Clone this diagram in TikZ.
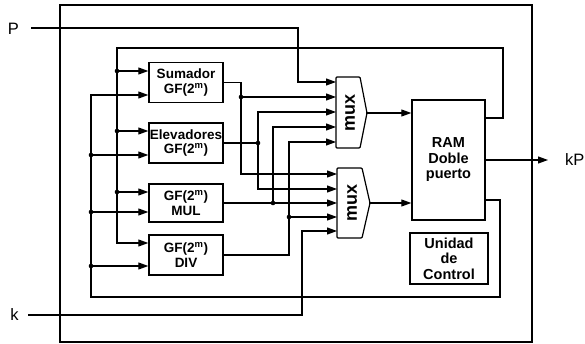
\documentclass[tikz,border=0pt]{standalone}
\usepackage{fontspec}
\setmainfont{Liberation Sans}
\usetikzlibrary{arrows.meta}

\begin{document}
\begin{tikzpicture}[x=1pt, y=-1pt,
    every node/.style={font=\fontsize{16.5}{18}\selectfont, inner sep=0pt},
    wire/.style={line width=1.1pt},
    arr/.style={wire, -{Triangle[length=10pt, width=7pt]}},
    unit/.style={draw, line width=1.4pt, align=center, minimum width=74pt, minimum height=40pt, font=\fontsize{13.5}{14.5}\selectfont\bfseries},
    bigbox/.style={draw, line width=1.4pt, align=center, font=\fontsize{14.5}{15.5}\selectfont\bfseries},
    muxbody/.style={draw, line width=1.2pt, rounded corners=1pt},
    muxtext/.style={rotate=90, font=\fontsize{18}{18}\selectfont\bfseries},
    jdot/.style={fill, radius=2.3pt}
  ]
    \useasboundingbox (0,0) rectangle (585,344);
    \node[draw, line width=2.2pt, minimum width=472pt, minimum height=337pt] (frame) at (296,173.5) {};

    % GF(2^m) units
    \node[unit] (sum)  at (186,82.5) {Sumador\\GF(2\textsuperscript{m})};
    \node[unit] (elev) at (186,143)  {Elevadores\\GF(2\textsuperscript{m})};
    \node[unit, minimum height=38pt] (mul) at (186,203) {GF(2\textsuperscript{m})\\MUL};
    \node[unit] (div)  at (186,255)  {GF(2\textsuperscript{m})\\DIV};

    \node[bigbox, minimum width=73pt, minimum height=120pt] (ram) at (448.5,160) {RAM\\Doble\\puerto};
    \node[bigbox, minimum width=78pt, minimum height=51pt] (ctrl) at (449,258.5) {Unidad\\de\\Control};

    % multiplexers
    \draw[muxbody] (336,77) -- (360,77) -- (367,113) -- (360,148) -- (336,148) -- cycle;
    \node[muxtext] (mux1) at (350,113) {mux};
    \draw[muxbody] (337,168) -- (362,168) -- (370,203) -- (362,238) -- (337,238) -- cycle;
    \node[muxtext] (mux2) at (352,203) {mux};
    \foreach \y [count=\i] in {82,97,112,127,142} \coordinate (m1i\i) at (336,\y);
    \foreach \y [count=\i] in {174,189,203,217,231} \coordinate (m2i\i) at (337,\y);
    \coordinate (m1o) at (367,113);
    \coordinate (m2o) at (370,203);

    % labels P, k, kP
    \node (P)  at (13.5,29) {P};
    \node (k)  at (14.5,315) {k};
    \node[anchor=west] (kP) at (565,160) {kP};
    \coordinate (Pin) at (31,28);
    \coordinate (Pturn) at (298,28);
    \coordinate (kin) at (28,315);
    \coordinate (kturn) at (302,315);
    \coordinate (kPout) at (548,160);

    \draw[arr] (Pin) -- (Pturn) |- (m1i1);
    \draw[arr] (kin) -- (kturn) |- (m2i5);
    \draw[arr] (m1o) -- (ram.west |- m1o);
    \draw[arr] (m2o) -- (ram.west |- m2o);
    \draw[arr] (ram.east) -- (kPout);

    % RAM port A back to the units
    \coordinate (ramA) at (485,118);
    \draw[arr] (ramA) -- (503,118) -- (503,48) -- (117,48) |- (div.west |- 0,243);
    \foreach \b/\y in {sum/71, elev/131, mul/192} {
      \draw[arr] (117,\y) -- (\b.west |- 0,\y);
      \fill[jdot] (117,\y) circle;
    }

    % RAM port B back to the units
    \coordinate (ramB) at (485,200);
    \draw[arr] (ramB) -- (500,200) -- (500,297) -- (91,297) |- (sum.west |- 0,95);
    \foreach \b/\y in {elev/155, mul/212, div/266} {
      \draw[arr] (91,\y) -- (\b.west |- 0,\y);
      \fill[jdot] (91,\y) circle;
    }

    % unit outputs into the muxes
    \coordinate (sumJ) at (241,97);
    \draw[arr] (sum.east) -| (sumJ) |- (m2i1);
    \draw[arr] (sumJ) -- (m1i2);
    \coordinate (elevJ) at (258,143);
    \draw[wire] (elev.east) -- (elevJ);
    \draw[arr] (elevJ) |- (m1i3);
    \draw[arr] (elevJ) |- (m2i2);
    \coordinate (mulJ) at (273,203);
    \draw[arr] (mul.east) -- (m2i3);
    \draw[arr] (mulJ) |- (m1i4);
    \coordinate (divJ) at (289,217);
    \draw[arr] (div.east) -| (divJ) |- (m1i5);
    \draw[arr] (divJ) -- (m2i4);
    \foreach \j in {sumJ, elevJ, mulJ, divJ} \fill[jdot] (\j) circle;
  \end{tikzpicture}
\end{document}
